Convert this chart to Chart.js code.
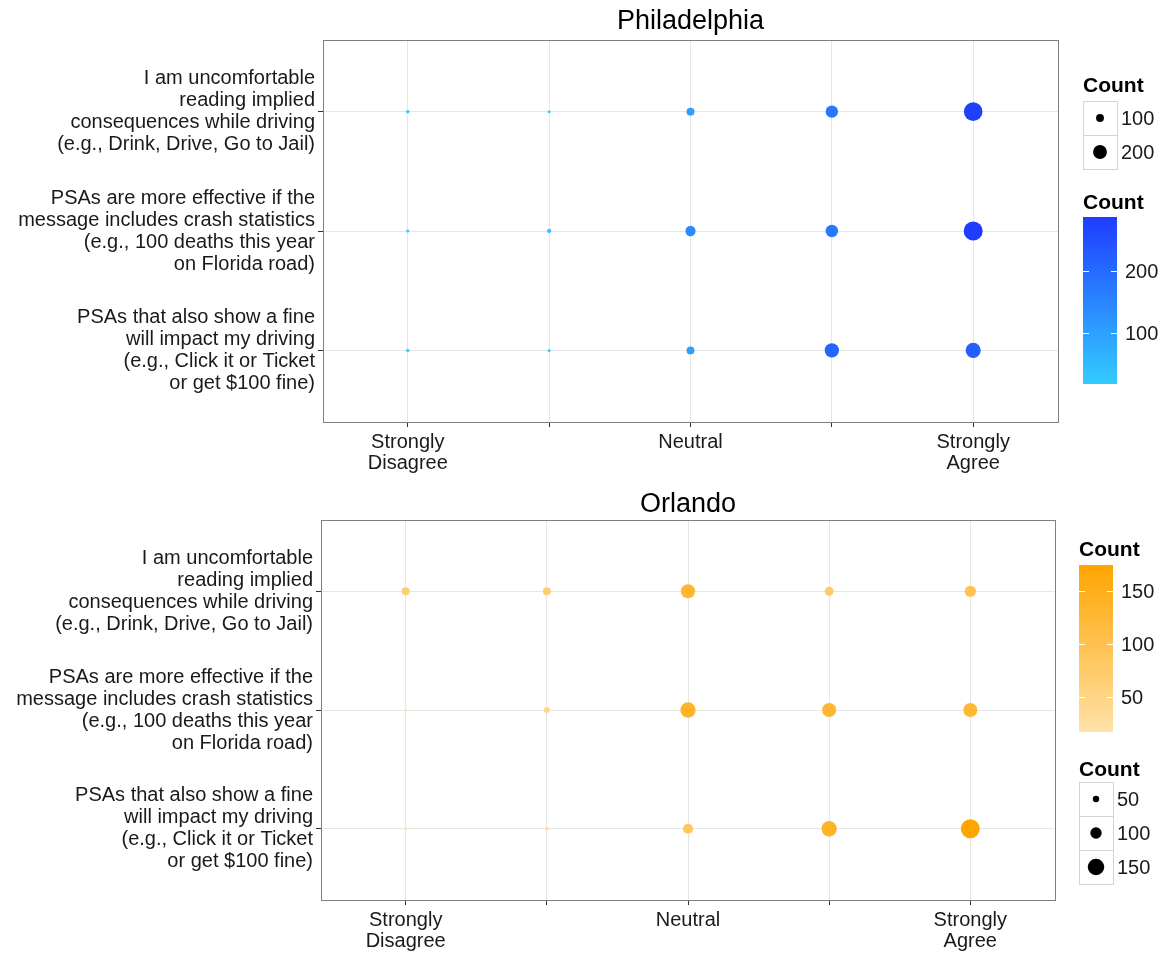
<!DOCTYPE html>
<html>
<head>
<meta charset="utf-8">
<script src="https://cdn.jsdelivr.net/npm/chart.js@4.4.1/dist/chart.umd.min.js"></script>
<style>
  body { margin: 0; background: #fff; }
  canvas { display: block; }
</style>
</head>
<body>
<canvas id="phl" width="1162" height="477"></canvas>
<canvas id="orl" width="1162" height="478"></canvas>
<script>
const statements = [
  ['I am uncomfortable', 'reading implied', 'consequences while driving', '(e.g., Drink, Drive, Go to Jail)'],
  ['PSAs are more effective if the', 'message includes crash statistics', '(e.g., 100 deaths this year', 'on Florida road)'],
  ['PSAs that also show a fine', 'will impact my driving', '(e.g., Click it or Ticket', 'or get $100 fine)']
];
const levelLabels = [['Strongly', 'Disagree'], '', 'Neutral', '', ['Strongly', 'Agree']];

// rows = statements, columns = Strongly Disagree ... Strongly Agree
const phillyCounts = [
  [25, 18, 102, 176, 280],
  [22, 40, 140, 176, 287],
  [22, 18, 100, 208, 222]
];
const orlandoCounts = [
  [66, 66, 128, 75, 98],
  [17, 45, 138, 128, 126],
  [17, 26, 88, 138, 175]
];
const phillySizeBreaks = [100, 200];
const phillyColorBreaks = [100, 200];
const orlandoSizeBreaks = [50, 100, 150];
const orlandoColorBreaks = [50, 100, 150];

const FONT = "'Liberation Sans', Arial, sans-serif";

function hexRgb(h) {
  return [parseInt(h.slice(1, 3), 16), parseInt(h.slice(3, 5), 16), parseInt(h.slice(5, 7), 16)];
}
function mix(lo, hi, t) {
  const a = hexRgb(lo), b = hexRgb(hi);
  return 'rgb(' + a.map((c, i) => Math.round(c + (b[i] - c) * t)).join(',') + ')';
}

// "Count" size key + colour bar, drawn to the right of the panel
const countLegend = {
  id: 'countLegend',
  afterDraw(chart, args, o) {
    const ctx = chart.ctx;
    ctx.save();
    ctx.textBaseline = 'middle';
    o.items.forEach(it => {
      ctx.fillStyle = '#000';
      ctx.font = 'bold 21px ' + FONT;
      ctx.textAlign = 'left';
      ctx.fillText('Count', it.x, it.titleY);
      if (it.type === 'size') {
        o.sizeBreaks.forEach((v, i) => {
          const y = it.y + i * 34;
          ctx.fillStyle = '#fff';
          ctx.fillRect(it.x, y, 34, 34);
          ctx.strokeStyle = '#d4d4d4';
          ctx.lineWidth = 1;
          ctx.strokeRect(it.x + 0.5, y + 0.5, 34, 34);
          ctx.fillStyle = '#000';
          ctx.beginPath();
          ctx.arc(it.x + 17, y + 17, o.radius(v), 0, Math.PI * 2);
          ctx.fill();
          ctx.font = '20px ' + FONT;
          ctx.fillStyle = '#1a1a1a';
          ctx.fillText(String(v), it.x + 38, y + 18);
        });
      } else {
        const h = it.h, w = 34;
        const g = ctx.createLinearGradient(0, it.y + h, 0, it.y);
        g.addColorStop(0, o.low);
        g.addColorStop(1, o.high);
        ctx.fillStyle = g;
        ctx.fillRect(it.x, it.y, w, h);
        o.colorBreaks.forEach(v => {
          const y = Math.round(it.y + h - (v - o.min) / (o.max - o.min) * h) + 0.5;
          ctx.strokeStyle = '#fff';
          ctx.lineWidth = 1;
          ctx.beginPath();
          ctx.moveTo(it.x, y); ctx.lineTo(it.x + 6, y);
          ctx.moveTo(it.x + w - 6, y); ctx.lineTo(it.x + w, y);
          ctx.stroke();
          ctx.fillStyle = '#1a1a1a';
          ctx.font = '20px ' + FONT;
          ctx.fillText(String(v), it.x + 42, y + 1);
        });
      }
    });
    ctx.restore();
  }
};

// panel border and title centred over the plotting area
const panelBox = {
  id: 'panelBox',
  afterDatasetsDraw(chart, args, o) {
    const a = chart.chartArea, ctx = chart.ctx;
    ctx.save();
    ctx.strokeStyle = '#7f7f7f';
    ctx.lineWidth = 1;
    ctx.strokeRect(Math.round(a.left) + 0.5, Math.round(a.top) + 0.5, Math.round(a.right - a.left), Math.round(a.bottom - a.top));
    ctx.fillStyle = '#000';
    ctx.font = '27px ' + FONT;
    ctx.textAlign = 'center';
    ctx.textBaseline = 'middle';
    ctx.fillText(o.title, (a.left + a.right) / 2, o.titleY);
    ctx.restore();
  }
};

function makeChart(id, title, counts, cfg) {
  const flat = counts.flat();
  const min = Math.min(...flat), max = Math.max(...flat);
  const radius = v => 1.5 + 8 * Math.max(0, v - min) / (max - min);
  const color = v => mix(cfg.low, cfg.high, (v - min) / (max - min));
  const points = [];
  counts.forEach((row, r) => row.forEach((v, c) => points.push({ x: c + 1, y: r + 1, v: v })));

  return new Chart(document.getElementById(id), {
    type: 'scatter',
    data: {
      datasets: [{
        data: points,
        pointRadius: ctx => radius(ctx.raw.v),
        pointHoverRadius: ctx => radius(ctx.raw.v),
        backgroundColor: ctx => color(ctx.raw.v),
        borderWidth: 0
      }]
    },
    options: {
      responsive: false,
      animation: false,
      layout: { padding: { top: cfg.top, right: cfg.right, left: 0, bottom: 0 } },
      plugins: {
        legend: { display: false },
        tooltip: { enabled: false },
        title: { display: false },
        panelBox: { title: title, titleY: cfg.titleY },
        countLegend: {
          items: cfg.items, sizeBreaks: cfg.sizeBreaks, colorBreaks: cfg.colorBreaks,
          radius: radius, low: cfg.low, high: cfg.high, min: min, max: max
        }
      },
      scales: {
        x: {
          type: 'linear', min: 0.4, max: 5.6,
          afterBuildTicks: s => { s.ticks = [1, 2, 3, 4, 5].map(v => ({ value: v })); },
          afterFit: s => { s.height = 55; s.paddingLeft = 0; s.paddingRight = 0; },
          ticks: {
            callback: v => levelLabels[v - 1],
            color: '#1a1a1a', padding: 5, maxRotation: 0, autoSkip: false,
            font: { family: FONT, size: 20, lineHeight: 1.05 }
          },
          grid: { color: '#e6e6e6', tickColor: '#333', tickLength: 5 },
          border: { display: false }
        },
        y: {
          type: 'linear', min: 0.4, max: 3.6, reverse: true,
          afterBuildTicks: s => { s.ticks = [1, 2, 3].map(v => ({ value: v })); },
          afterFit: s => { s.width = cfg.left; s.paddingTop = 0; s.paddingBottom = 0; },
          ticks: {
            callback: v => statements[v - 1],
            color: '#1a1a1a', padding: 3, autoSkip: false,
            font: { family: FONT, size: 20, lineHeight: 1.1 }
          },
          grid: { color: '#e6e6e6', tickColor: '#333', tickLength: 5 },
          border: { display: false }
        }
      }
    },
    plugins: [panelBox, countLegend]
  });
}

makeChart('phl', 'Philadelphia', phillyCounts, {
  left: 323, right: 104, top: 40, titleY: 22,
  low: '#33ccff', high: '#1f3cff',
  sizeBreaks: phillySizeBreaks, colorBreaks: phillyColorBreaks,
  items: [
    { type: 'size', x: 1083, titleY: 86, y: 101 },
    { type: 'color', x: 1083, titleY: 203, y: 217, h: 167 }
  ]
});

makeChart('orl', 'Orlando', orlandoCounts, {
  left: 321, right: 107, top: 43, titleY: 28,
  low: '#ffe1a8', high: '#ffa500',
  sizeBreaks: orlandoSizeBreaks, colorBreaks: orlandoColorBreaks,
  items: [
    { type: 'color', x: 1079, titleY: 73, y: 88, h: 167 },
    { type: 'size', x: 1079, titleY: 293, y: 305 }
  ]
});
</script>
</body>
</html>
